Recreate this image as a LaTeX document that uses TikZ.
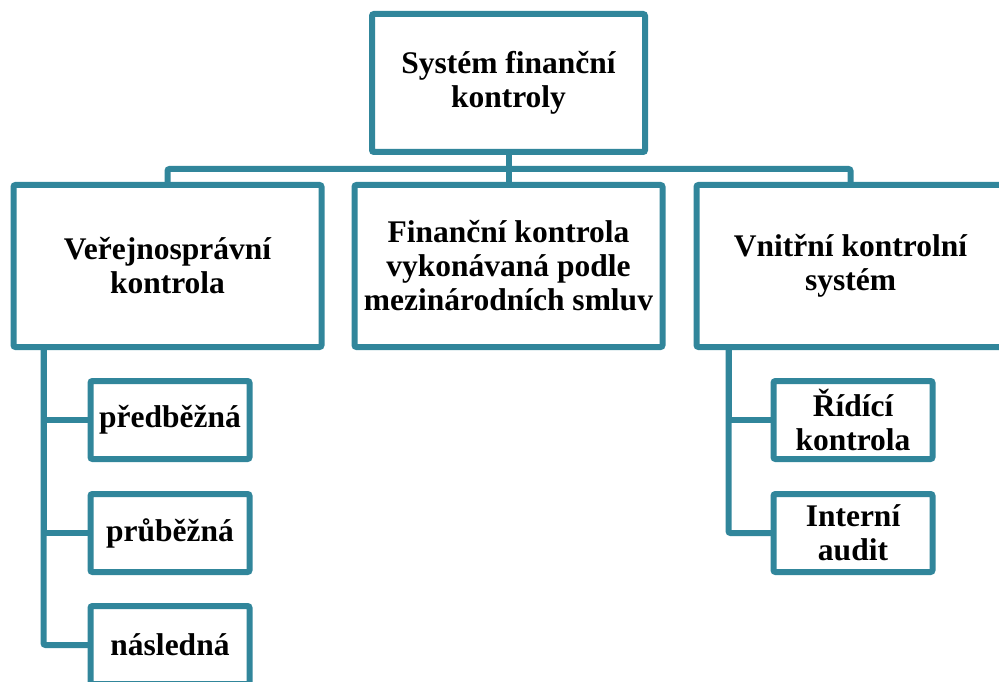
\documentclass[tikz,border=0pt]{standalone}
\usepackage{fontspec}
\setmainfont{LiberationSerif}[Extension=.ttf, UprightFont=*-Regular, BoldFont=*-Bold, ItalicFont=*-Italic, BoldItalicFont=*-BoldItalic]
\usetikzlibrary{positioning}
\definecolor{boxTeal}{HTML}{31869B}

\tikzset{
    bigbox/.style={rectangle, draw=boxTeal, line width=6pt, fill=white, rounded corners=2pt, outer sep=0pt, inner sep=0pt, align=center, font=\fontsize{31.5}{34}\selectfont\bfseries},
    childbox/.style={bigbox, minimum width=159pt, minimum height=78pt},
    link/.style={draw=boxTeal, line width=6pt}
}

\begin{document}
\begin{tikzpicture}[x=1pt, y=-1pt]
    \clip (0,0) rectangle (999,682);

    \node (top) [bigbox, minimum width=273pt, minimum height=138pt] at (508.5,83) {Systém finanční\\kontroly};

    \node (mezin) [bigbox, minimum width=308pt, minimum height=162pt, below=33pt of top] {Finanční kontrola\\vykonávaná podle\\mezinárodních smluv};
    \node (verej) [bigbox, minimum width=308pt, minimum height=162pt, left=33pt of mezin] {Veřejnosprávní\\kontrola};
    \node (vnitr) [bigbox, minimum width=308pt, minimum height=162pt, right=34pt of mezin] {Vnitřní kontrolní\\systém};

    % left branch
    \node (pred) [childbox, below right=34pt and 77pt of verej.south west] {předběžná};
    \node (prub) [childbox, below=35pt of pred] {průběžná};
    \node (nasl) [childbox, below=34pt of prub] {následná};

    % right branch
    \node (ridici) [childbox, below right=34pt and 77pt of vnitr.south west] {Řídící\\kontrola};
    \node (interni) [childbox, below=35pt of ridici] {Interní\\audit};

    \draw [link] (top.south) -- (mezin.north);
    \draw [link, rounded corners=2pt] (verej.north) -- ++(0,-16) -| (vnitr.north);

    \draw [link] ([xshift=30pt]verej.south west) |- (pred.west);
    \draw [link] ([xshift=30pt]verej.south west) |- (prub.west);
    \draw [link, rounded corners=2pt] ([xshift=30pt]verej.south west) |- (nasl.west);

    \draw [link] ([xshift=32pt]vnitr.south west) |- (ridici.west);
    \draw [link, rounded corners=2pt] ([xshift=32pt]vnitr.south west) |- (interni.west);
\end{tikzpicture}
\end{document}
